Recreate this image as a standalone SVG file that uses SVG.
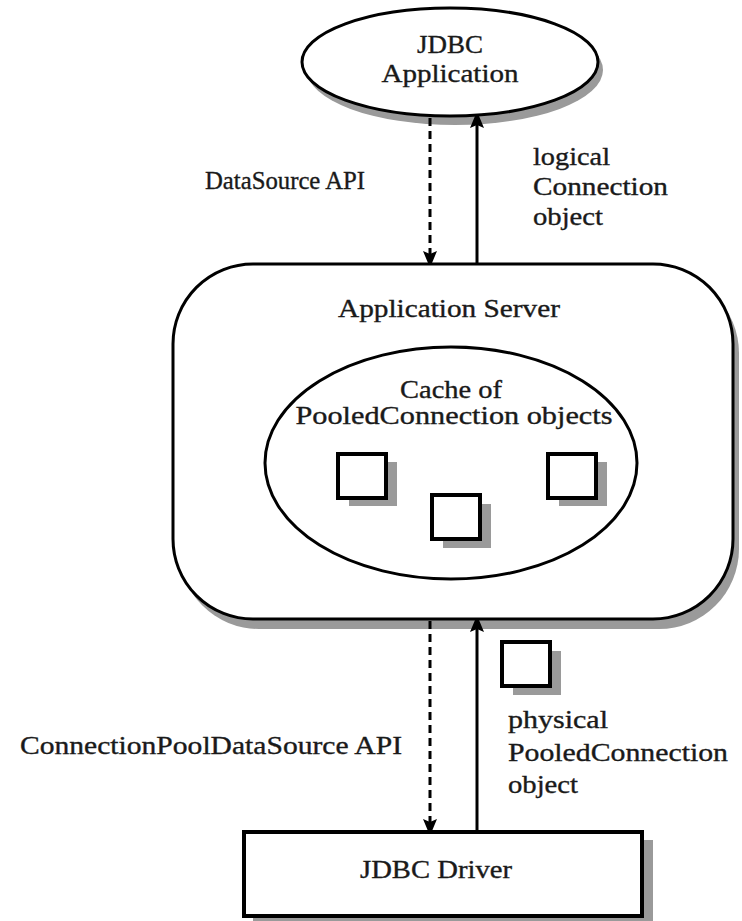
<svg xmlns="http://www.w3.org/2000/svg" width="742" height="921" viewBox="0 0 742 921">
  <style>
    .shadow { fill: #9a9a9a; stroke: none; }
    .shape { fill: #ffffff; stroke: #000000; stroke-width: 3; }
    .box { fill: #ffffff; stroke: #000000; stroke-width: 4; }
    .label { font-family: "Liberation Serif", "Times New Roman", serif; font-size: 25px; fill: #1a1a1a; stroke: #1a1a1a; stroke-width: 0.35; }
    .mid { text-anchor: middle; }
    .solid { stroke: #000000; stroke-width: 3; fill: none; }
    .dashed { stroke: #000000; stroke-width: 3; fill: none; stroke-dasharray: 8 5; }
  </style>
  <defs>
    <marker id="head" viewBox="0 0 12 14" refX="11" refY="7" markerWidth="12" markerHeight="14" markerUnits="userSpaceOnUse" orient="auto">
      <path d="M0,0 L12,5 L12,9 L0,14 L3,7 Z" fill="#000000"/>
    </marker>
    <rect id="obj" width="48" height="44"/>
  </defs>

  <rect width="742" height="921" fill="#ffffff"/>

  <!-- client application -->
  <g id="jdbc-application">
    <ellipse class="shadow" cx="455" cy="70" rx="148" ry="55"/>
    <ellipse class="shape" cx="450" cy="62" rx="148" ry="54"/>
    <text class="label mid" x="450" y="53" textLength="66" lengthAdjust="spacingAndGlyphs">JDBC</text>
    <text class="label mid" x="450" y="82" textLength="137" lengthAdjust="spacingAndGlyphs">Application</text>
  </g>

  <!-- middle tier -->
  <g id="application-server">
    <rect class="shadow" x="179" y="273" width="560" height="356" rx="80" ry="80"/>
    <rect class="shape" x="173" y="264" width="560" height="355" rx="80" ry="80"/>
    <text class="label mid" x="449" y="317" textLength="222" lengthAdjust="spacingAndGlyphs">Application Server</text>
  </g>

  <g id="connection-cache">
    <ellipse class="shape" cx="451" cy="463" rx="186" ry="116"/>
    <text class="label mid" x="451" y="398" textLength="102" lengthAdjust="spacingAndGlyphs">Cache of</text>
    <text class="label mid" x="454" y="424" textLength="317" lengthAdjust="spacingAndGlyphs">PooledConnection objects</text>
  </g>

  <g id="pooled-connection-1">
    <use href="#obj" class="shadow" x="349" y="462"/>
    <use href="#obj" class="box" x="338" y="454"/>
  </g>
  <g id="pooled-connection-2">
    <use href="#obj" class="shadow" x="443" y="504"/>
    <use href="#obj" class="box" x="432" y="495"/>
  </g>
  <g id="pooled-connection-3">
    <use href="#obj" class="shadow" x="559" y="462"/>
    <use href="#obj" class="box" x="548" y="454"/>
  </g>
  <g id="pooled-connection-physical">
    <use href="#obj" class="shadow" x="513" y="651"/>
    <use href="#obj" class="box" x="502" y="642"/>
  </g>

  <!-- driver -->
  <g id="jdbc-driver">
    <rect class="shadow" x="253" y="840" width="400" height="86"/>
    <rect class="box" x="244" y="832" width="398" height="84"/>
    <text class="label mid" x="436" y="878" textLength="152" lengthAdjust="spacingAndGlyphs">JDBC Driver</text>
  </g>

  <!-- connectors -->
  <g id="connectors">
    <line class="dashed" x1="430" y1="118" x2="430" y2="262" marker-end="url(#head)"/>
    <line class="solid" x1="477" y1="264" x2="477" y2="117" marker-end="url(#head)"/>
    <line class="dashed" x1="430" y1="621" x2="430" y2="830" marker-end="url(#head)"/>
    <line class="solid" x1="477" y1="832" x2="477" y2="621" marker-end="url(#head)"/>
  </g>

  <!-- connector labels -->
  <g id="connector-labels">
    <text class="label" x="205" y="189" textLength="160" lengthAdjust="spacingAndGlyphs">DataSource API</text>
    <text class="label" x="533" y="165" textLength="77" lengthAdjust="spacingAndGlyphs">logical</text>
    <text class="label" x="533" y="195" textLength="135" lengthAdjust="spacingAndGlyphs">Connection</text>
    <text class="label" x="533" y="225" textLength="70" lengthAdjust="spacingAndGlyphs">object</text>
    <text class="label" x="20" y="754" textLength="382" lengthAdjust="spacingAndGlyphs">ConnectionPoolDataSource API</text>
    <text class="label" x="508" y="728" textLength="100" lengthAdjust="spacingAndGlyphs">physical</text>
    <text class="label" x="508" y="761" textLength="220" lengthAdjust="spacingAndGlyphs">PooledConnection</text>
    <text class="label" x="508" y="793" textLength="70" lengthAdjust="spacingAndGlyphs">object</text>
  </g>
</svg>
